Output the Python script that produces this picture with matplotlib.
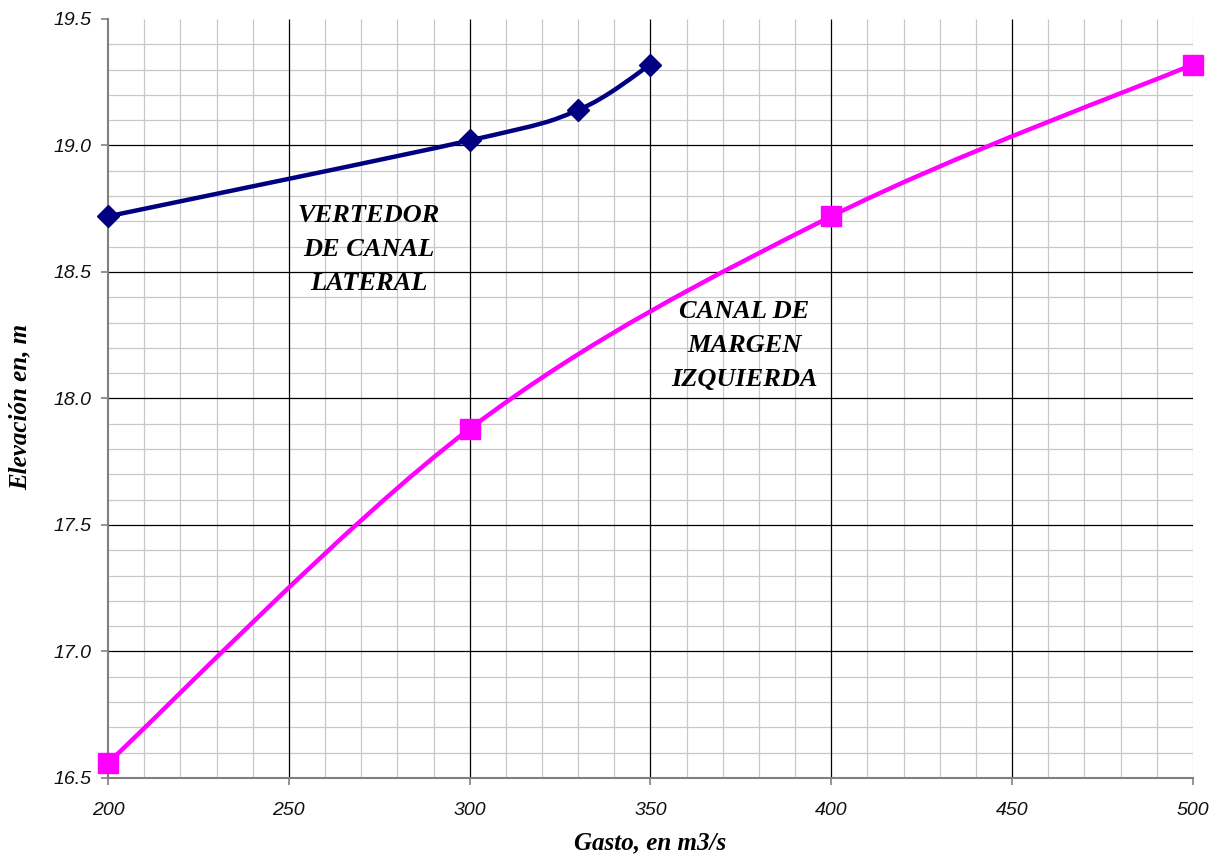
#Curvas elevacion-gasto de los canales.
import matplotlib
matplotlib.use('Agg')
import matplotlib.pyplot as plt
from matplotlib.path import Path
from matplotlib.patches import PathPatch
import numpy as np


vertedor_gasto = [200, 300, 330, 350]
vertedor_elevacion = [18.72, 19.02, 19.14, 19.32]

canal_gasto = [200, 300, 400, 500]
canal_elevacion = [16.56, 17.88, 18.72, 19.32]

x_ticks = [200, 250, 300, 350, 400, 450, 500]
y_ticks = [16.5, 17.0, 17.5, 18.0, 18.5, 19.0, 19.5]


def smooth_path(xs, ys):
    #Bezier pieces through the points, same kind of smoothing as a spreadsheet line
    pts = np.column_stack([xs, ys]).astype(float)
    n = len(pts)
    verts = [pts[0]]
    codes = [Path.MOVETO]
    for i in range(n - 1):
        p_prev = pts[i - 1] if i > 0 else pts[i]
        p_next = pts[i + 2] if i + 2 < n else pts[i + 1]
        c1 = pts[i] + (pts[i + 1] - p_prev) / 6.0
        c2 = pts[i + 1] - (p_next - pts[i]) / 6.0
        verts += [c1, c2, pts[i + 1]]
        codes += [Path.CURVE4] * 3
    return Path(verts, codes)


fig = plt.figure(figsize=(12.21, 8.63), dpi=100)
ax = fig.add_axes([0.0885, 0.0985, 0.8885, 0.8795])
ax.set_xlim(200, 500)
ax.set_ylim(16.5, 19.5)

#grid: light lines every 10 / 0.1, black lines every 50 / 0.5
minor_x = [v for v in np.arange(210, 500, 10) if v % 50 != 0]
minor_y = [round(v, 1) for v in np.arange(16.6, 19.5, 0.1) if round(v * 10) % 5 != 0]
ax.vlines(minor_x + [500], 16.5, 19.5, colors='#c8c8c8', linewidth=0.9, zorder=0)
ax.hlines(minor_y, 200, 500, colors='#c8c8c8', linewidth=0.9, zorder=0)
ax.vlines(x_ticks[1:-1], 16.5, 19.5, colors='black', linewidth=0.9, zorder=1)
ax.hlines(y_ticks[1:-1], 200, 500, colors='black', linewidth=0.9, zorder=1)

ax.add_patch(PathPatch(smooth_path(vertedor_gasto, vertedor_elevacion), facecolor='none',
                       edgecolor='#000080', linewidth=3.2, zorder=3, clip_on=False))
ax.plot(vertedor_gasto, vertedor_elevacion, linestyle='none', marker='D', markersize=11,
        color='#000080', zorder=4, clip_on=False)

ax.add_patch(PathPatch(smooth_path(canal_gasto, canal_elevacion), facecolor='none',
                       edgecolor='#ff00ff', linewidth=3.2, zorder=3, clip_on=False))
ax.plot(canal_gasto, canal_elevacion, linestyle='none', marker='s', markersize=14,
        color='#ff00ff', zorder=4, clip_on=False)

note_font = dict(family='Liberation Serif', weight='bold', style='italic', size=19)
ax.text(272, 18.59, 'VERTEDOR\nDE CANAL\nLATERAL', ha='center', va='center',
        linespacing=1.6, **note_font)
ax.text(376, 18.21, 'CANAL DE\nMARGEN\nIZQUIERDA', ha='center', va='center',
        linespacing=1.6, **note_font)

ax.set_xticks(x_ticks)
ax.set_yticks(y_ticks)
ax.set_xticklabels([str(v) for v in x_ticks])
ax.set_yticklabels(['%.1f' % v for v in y_ticks])
for lab in ax.get_xticklabels() + ax.get_yticklabels():
    lab.set_family('Liberation Sans')
    lab.set_style('italic')
    lab.set_fontsize(14)
    lab.set_color('#111111')
ax.tick_params(axis='both', direction='out', length=5, width=1.2, color='#808080')
ax.tick_params(axis='x', pad=12)
ax.tick_params(axis='y', pad=7)

for side in ['top', 'right']:
    ax.spines[side].set_visible(False)
for side in ['left', 'bottom']:
    ax.spines[side].set_color('#808080')
    ax.spines[side].set_linewidth(1.5)

label_font = dict(family='Liberation Serif', weight='bold', style='italic', size=18)
ax.set_xlabel('Gasto, en m3/s', **label_font)
ax.set_ylabel('Elevación en, m', **label_font)
ax.xaxis.set_label_coords(0.5, -0.086)
ax.yaxis.set_label_coords(-0.081, 0.489)
ax.xaxis.label.set_verticalalignment('center')
ax.yaxis.label.set_verticalalignment('center')

plt.savefig('out.png', dpi=100)
